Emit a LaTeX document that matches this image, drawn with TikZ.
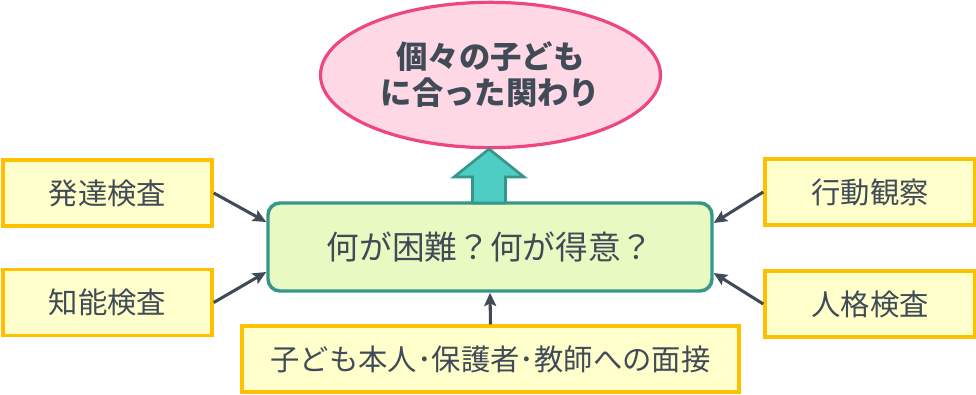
\documentclass[tikz,border=0pt]{standalone}
\usepackage{fontspec}
\setmainfont{Noto Sans CJK JP}
\newfontfamily\cjk{Noto Sans CJK JP}
\usetikzlibrary{arrows.meta,calc,shapes.geometric}
\definecolor{txt}{HTML}{414B57}
\definecolor{ybox}{HTML}{FFFFCC}
\definecolor{yline}{HTML}{FFC000}
\definecolor{gbox}{HTML}{E8FAC2}
\definecolor{teal}{HTML}{35978B}
\definecolor{pinkf}{HTML}{FFD8E5}
\definecolor{pinkl}{HTML}{EE4682}
\definecolor{arrowf}{HTML}{4ECDC4}
\tikzset{
  srcbox/.style={draw=yline, fill=ybox, line width=2.6pt, minimum height=49.5pt,
    inner sep=0pt, text=txt, font=\cjk\fontsize{22}{26}\selectfont},
  centerbox/.style={draw=teal, fill=gbox, line width=2.6pt, rounded corners=9pt,
    minimum width=333pt, minimum height=66pt, inner sep=0pt, text=txt,
    font=\cjk\fontsize{24.5}{28}\selectfont},
  goal/.style={ellipse, draw=pinkl, fill=pinkf, line width=2.4pt,
    minimum width=255pt, minimum height=109pt, inner sep=0pt, text=txt,
    align=center, font=\cjk\bfseries\fontsize{23.5}{27}\selectfont},
  conn/.style={draw=txt, line width=2.3pt, -{Stealth[length=10pt,width=9pt,inset=2pt]}},
  bigarrow/.style={draw=teal, fill=arrowf, line width=2pt, line join=miter}
}
\begin{document}
\begin{tikzpicture}[x=0.75pt,y=-0.75pt]
\path[use as bounding box, fill=white] (0,0) rectangle (976,394);
\node[goal] (g) at (490.5,75) {個々の子ども\\に合った関わり};
\node[centerbox] (c) at (490,247) {何が困難？何が得意？};
\node[srcbox, minimum width=156.75pt] (a) at (107.5,193) {発達検査};
\node[srcbox, minimum width=156.75pt] (b) at (107.5,302.5) {知能検査};
\node[srcbox, minimum width=157.5pt] (d) at (870,192) {行動観察};
\node[srcbox, minimum width=157.5pt] (f) at (870,304) {人格検査};
\node[srcbox, minimum width=372.75pt] (e) at (490.5,359) {子ども本人･保護者･教師への面接};
\coordinate (tip) at (489,149);
\draw[bigarrow] (tip) -- (524,177) -- (505.5,177) -- (505.5,203) -- (472.5,203) -- (472.5,177) -- (454,177) -- cycle;
\draw[conn] (a.east) -- ($(c.west)+(0,-25)$);
\draw[conn] (b.east) -- ($(c.west)+(0,25)$);
\draw[conn] (d.west) -- ($(c.east)+(0,-24)$);
\draw[conn] (f.west) -- ($(c.east)+(0,26)$);
\draw[conn] (e.north) -- (c.south);
\end{tikzpicture}
\end{document}
